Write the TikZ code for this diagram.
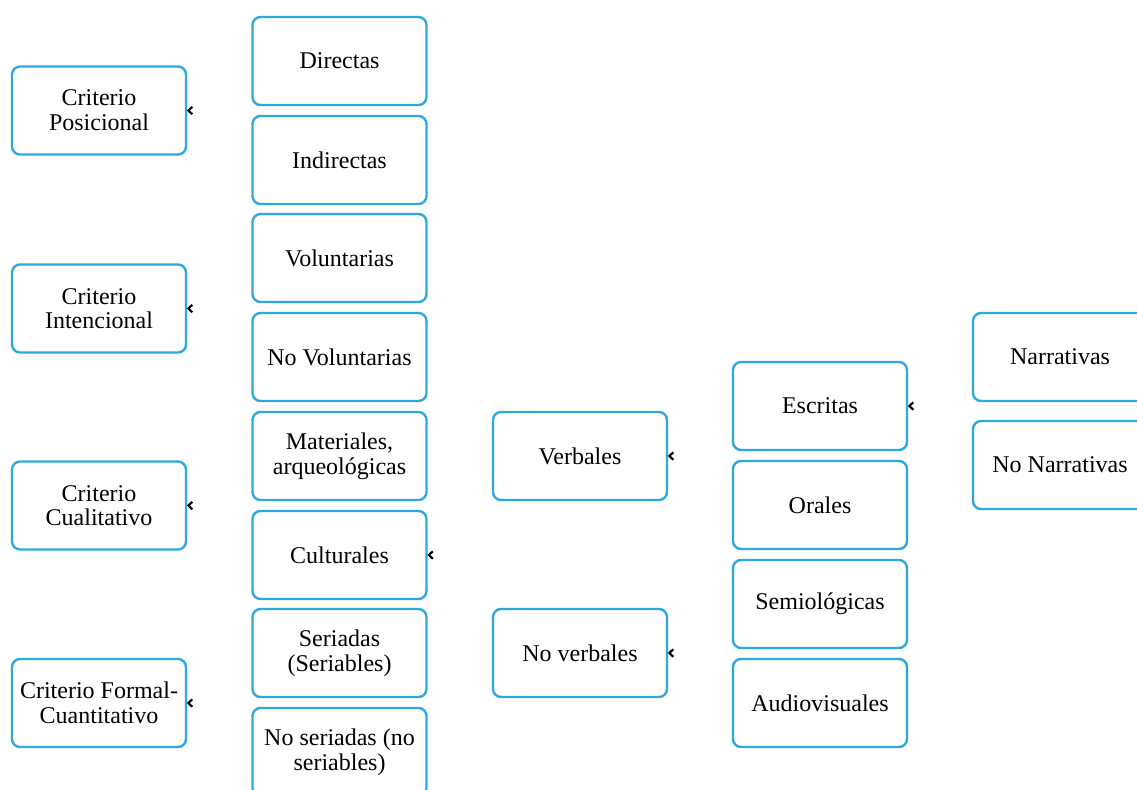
\documentclass[tikz,border=0pt]{standalone}
\usepackage{fontspec}
\setmainfont{Liberation Serif}
\definecolor{boxblue}{HTML}{2EA9DF}
\begin{document}
\begin{tikzpicture}[x=0.75pt,y=-0.75pt,
  card/.style={draw=boxblue, line width=1.8pt, rounded corners=6pt, fill=white,
    minimum width=130.5pt, minimum height=66pt, inner sep=0pt, align=center,
    font=\fontsize{18}{18.5}\selectfont},
  chev/.style={draw=black, line width=1.6pt, line join=miter}]
\clip (0,0) rectangle (1137,789);
\fill[white] (0,0) rectangle (1137,789);

% criteria column
\node[card] (pos) at (99,110.5) {Criterio\\Posicional};
\node[card] (int) at (99,308.5) {Criterio\\Intencional};
\node[card] (cua) at (99,505.5) {Criterio\\Cualitativo};
\node[card] (for) at (99,703) {Criterio Formal-\\Cuantitativo};

% source types
\node[card] (dir) at (339.5,61)  {Directas};
\node[card] (ind) at (339.5,160) {Indirectas};
\node[card] (vol) at (339.5,258) {Voluntarias};
\node[card] (nvo) at (339.5,357) {No Voluntarias};
\node[card] (mat) at (339.5,456) {Materiales,\\arqueológicas};
\node[card] (cul) at (339.5,555) {Culturales};
\node[card] (ser) at (339.5,653) {Seriadas\\(Seriables)};
\node[card] (nse) at (339.5,752) {No seriadas (no\\seriables)};

% cultural sources
\node[card] (ver) at (580,456) {Verbales};
\node[card] (nve) at (580,653) {No verbales};

% verbal sources
\node[card] (esc) at (820,406) {Escritas};
\node[card] (ora) at (820,505) {Orales};
\node[card] (sem) at (820,604) {Semiológicas};
\node[card] (aud) at (820,703) {Audiovisuales};

% written sources
\node[card] (nar) at (1060,357) {Narrativas};
\node[card] (nna) at (1060,465) {No Narrativas};

% small chevrons on the right edges
\foreach \n in {pos,int,cua,for,cul,ver,nve,esc}
  \draw[chev] ([xshift=3.8pt,yshift=2.8pt]\n.east) -- ([xshift=0.9pt]\n.east) -- ([xshift=3.8pt,yshift=-2.8pt]\n.east);
\end{tikzpicture}
\end{document}
